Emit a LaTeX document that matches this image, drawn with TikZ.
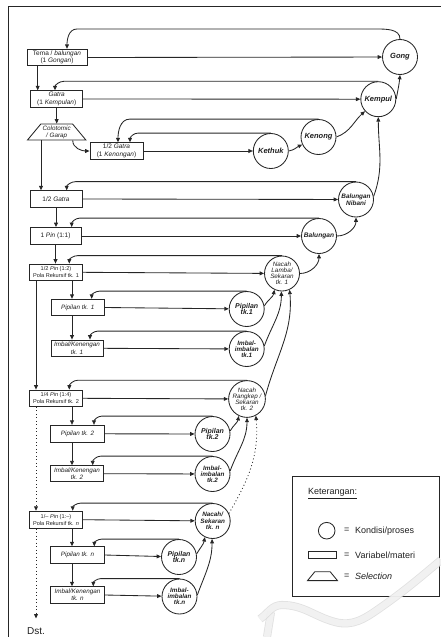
\documentclass[tikz,border=0pt]{standalone}
\usepackage{fontspec}
\setmainfont{Liberation Sans}
\usetikzlibrary{shapes.geometric,arrows.meta}
\begin{document}
\begin{tikzpicture}[x=1pt,y=-1pt,
  every node/.style={text=black!88},
  box/.style={draw=black!85, line width=0.85pt, inner sep=0pt, align=center, font=\fontsize{6.5}{7.6}\selectfont},
  smallbox/.style={box, font=\fontsize{5.6}{7.2}\selectfont},
  itbox/.style={box, font=\fontsize{6.3}{7.4}\selectfont\itshape},
  cir/.style={draw=black!85, circle, line width=0.85pt, minimum size=35pt, inner sep=0pt, align=center},
  cf/.style 2 args={font=\fontsize{#1}{#2}\selectfont\bfseries\itshape},
  ci/.style 2 args={font=\fontsize{#1}{#2}\selectfont\itshape},
  arr/.style={line width=0.85pt, draw=black!85, -{Triangle[length=4.4pt,width=3.8pt]}},
  dotarr/.style={arr, dash pattern=on 0.9pt off 2.6pt},
  wm/.style={draw=gray!30, line width=0.8pt, double=gray!8, double distance=6.5pt},
  legtxt/.style={font=\fontsize{9}{10}\selectfont, inner sep=0pt},
]
\useasboundingbox (0,0) rectangle (441,637);
% frame
\draw[line width=0.9pt, draw=black!85] (8,637) -- (8,6) -- (441,6);

% ---------- boxes ----------
\node[box, minimum width=60pt, minimum height=16.5pt] (Tema) at (57,57.5) {Tema / \textit{balungan}\\(1 \textit{Gongan})};
\node[box, minimum width=52pt, minimum height=16.5pt] (Gatra) at (56.7,99) {\textit{Gatra}\\(1 \textit{Kempulan})};
\node[draw=black!85, line width=0.85pt, trapezium, trapezium stretches=true, trapezium left angle=48, trapezium right angle=48, minimum width=58.7pt, minimum height=16pt, inner sep=0pt, align=center, font=\fontsize{6.3}{7.2}\selectfont\itshape] (Trap) at (56.7,132) {Colotomic\\/ Garap};
\node[box, minimum width=53pt, minimum height=16.5pt] (Kenongan) at (116.5,151) {1/2 \textit{Gatra}\\(1 \textit{Kenongan})};
\node[box, minimum width=52pt, minimum height=16.5pt] (Gatrahalf) at (56,199) {1/2 \textit{Gatra}};
\node[box, minimum width=51pt, minimum height=17pt] (Onepin) at (55.5,236) {1 \textit{Pin} (1:1)};
\node[smallbox, minimum width=53pt, minimum height=16.5pt] (Halfpin) at (56,272.3) {1/2 \textit{Pin} (1:2)\\Pola Rekursif tk. 1};
\node[itbox, minimum width=53pt, minimum height=16.5pt] (PipB1) at (77.7,307.5) {Pipilan tk. 1};
\node[itbox, minimum width=52pt, minimum height=16.5pt] (ImbB1) at (77,348.3) {Imbal/Kenengan\\tk. 1};
\node[smallbox, minimum width=53pt, minimum height=16.5pt] (Quarterpin) at (56,398.3) {1/4 \textit{Pin} (1:4)\\Pola Rekursif tk. 2};
\node[itbox, minimum width=53.5pt, minimum height=17pt] (PipB2) at (77.5,433.8) {Pipilan tk. 2};
\node[itbox, minimum width=52.5pt, minimum height=16pt] (ImbB2) at (77,473.7) {Imbal/Kenengan\\tk. 2};
\node[smallbox, minimum width=53pt, minimum height=17pt] (Npin) at (56,519.7) {1/– \textit{Pin} (1:–)\\Pola Rekursif tk. \textit{n}};
\node[itbox, minimum width=53.5pt, minimum height=16.5pt] (PipBn) at (77.5,555) {Pipilan tk. n};
\node[itbox, minimum width=53.5pt, minimum height=16.5pt] (ImbBn) at (77.5,595) {Imbal/Kenengan\\tk. n};
\node[font=\fontsize{10}{12}\selectfont, anchor=west, inner sep=0pt] (Dst) at (27,631.5) {Dst.};
\coordinate (DstTop) at (36,618.5);

% ---------- circles ----------
\node[cir, cf={7.5}{8}] (Gong) at (400,57) {Gong};
\node[cir, cf={7.5}{8}] (Kempul) at (378.3,99.2) {Kempul};
\node[cir, cf={7.5}{8}] (Kenong) at (318.5,137) {Kenong};
\node[cir, cf={7.5}{8}] (Kethuk) at (270.8,151) {Kethuk};
\node[cir, cf={6.4}{6.8}] (Nibani) at (356,199.5) {Balungan\\Nibani};
\node[cir, cf={6.6}{7}] (Balungan) at (319,236) {Balungan};
\node[cir, ci={6.3}{6.1}] (Nacah1) at (282,273.5) {Nacah\\Lamba/\\Sekaran\\tk. 1};
\node[cir, cf={7}{6.8}] (PipC1) at (246.7,309) {Pipilan\\tk.1};
\node[cir, cf={6.3}{6.2}] (ImbC1) at (246.7,349) {Imbal-\\imbalan\\tk.1};
\node[cir, ci={6.3}{6.1}] (Nacah2) at (247,399) {Nacah\\Rangkep /\\Sekaran\\tk. 2};
\node[cir, cf={7}{6.8}] (PipC2) at (212.5,434) {Pipilan\\tk.2};
\node[cir, cf={6.3}{6.2}] (ImbC2) at (212.5,474) {Imbal-\\imbalan\\tk.2};
\node[cir, cf={6.3}{6.3}] (NacahN) at (212.7,521) {Nacah/\\Sekaran\\tk. n};
\node[cir, cf={7}{6.8}] (PipCn) at (179,557) {Pipilan\\tk.n};
\node[cir, cf={6.3}{6.2}] (ImbCn) at (179.5,596.5) {Imbal-\\imbalan\\tk.n};

% ---------- box -> circle ----------
\foreach \b/\c in {Tema/Gong, Gatra/Kempul, Kenongan/Kethuk, Gatrahalf/Nibani, Onepin/Balungan,
  Halfpin/Nacah1, PipB1/PipC1, ImbB1/ImbC1, Quarterpin/Nacah2, PipB2/PipC2, ImbB2/ImbC2,
  Npin/NacahN, PipBn/PipCn, ImbBn/ImbCn}
  \draw[arr] (\b.east) -- (\c);

% ---------- returns circle -> box ----------
\draw[arr] (Gong.north) to[out=90,in=0] (376,29) -- (77,29) to[out=180,in=90] ([xshift=10pt]Tema.north);
\draw[arr] (Kempul.north) -- (64,0 |- Kempul.north) to[out=180,in=90] ([xshift=-1.7pt]Gatra.north);
\draw[arr] (Kenong.north) -- (130,0 |- Kenong.north) to[out=180,in=90] ([xshift=1.5pt]Kenongan.north);
\draw[arr] (Kethuk.north) -- (138,0 |- Kethuk.north) to[out=180,in=90] ([xshift=13.5pt]Kenongan.north);
\draw[arr] (Nibani.north) -- (76,0 |- Nibani.north) to[out=180,in=90] ([xshift=10.7pt]Gatrahalf.north);
\draw[arr] (Balungan.north) -- (80,0 |- Balungan.north) to[out=180,in=90] ([xshift=16.2pt]Onepin.north);
\draw[arr] (Nacah1.north) -- (78,0 |- Nacah1.north) to[out=180,in=90] ([xshift=13.3pt]Halfpin.north);
\draw[arr] (PipC1.north) -- (100,0 |- PipC1.north) to[out=180,in=90] ([xshift=14pt]PipB1.north);
\draw[arr] (ImbC1.north) -- (98,0 |- ImbC1.north) to[out=180,in=90] ([xshift=13pt]ImbB1.north);
\draw[arr] (Nacah2.north) -- (78,0 |- Nacah2.north) to[out=180,in=90] ([xshift=13.3pt]Quarterpin.north);
\draw[arr] (PipC2.north) -- (102,0 |- PipC2.north) to[out=180,in=90] ([xshift=16.5pt]PipB2.north);
\draw[arr] (ImbC2.north) -- (101,0 |- ImbC2.north) to[out=180,in=90] ([xshift=15.7pt]ImbB2.north);
\draw[arr] (NacahN.north) -- (81,0 |- NacahN.north) to[out=180,in=90] ([xshift=16.7pt]Npin.north);
\draw[arr] (PipCn.north) -- (102,0 |- PipCn.north) to[out=180,in=90] ([xshift=16.8pt]PipBn.north);
\draw[arr] (ImbCn.north) -- (101,0 |- ImbCn.north) to[out=180,in=90] ([xshift=15.8pt]ImbBn.north);

% ---------- circle -> circle ----------
\draw[arr] (Kethuk.east) to[out=10,in=205] (Kenong.205);
\draw[arr] (Kenong.east) to[out=20,in=222] (Kempul.222);
\draw[arr] (Kempul.east) to[out=80,in=-95] (Gong.south);
\draw[arr] (Nibani.10) to[out=70,in=-90] (Kempul.south);
\draw[arr] (Balungan.east) to[out=0,in=-90] (Nibani.south);
\draw[arr] (Nacah1.east) to[out=0,in=-90] (Balungan.south);
\draw[arr] (PipC1.10) to[out=60,in=-100] (Nacah1.245);
\draw[arr] (ImbC1.10) to[out=70,in=-90] (Nacah1.268);
\draw[arr] (Nacah2.10) to[out=75,in=-85] (Nacah1.295);
\draw[arr] (PipC2.10) to[out=60,in=-100] (Nacah2.244);
\draw[arr] (ImbC2.10) to[out=70,in=-90] (Nacah2.south);
\draw[dotarr] (NacahN.25) to[out=60,in=-85] (Nacah2.298);
\draw[arr] (PipCn.10) to[out=60,in=-100] (NacahN.244);
\draw[arr] (ImbCn.5) to[out=70,in=-90] (NacahN.268);

% ---------- left spine ----------
\draw[arr] (37.7,0 |- Tema.south) -- (37.7,0 |- Gatra.north);
\draw[arr] (Gatra.south) -- (Gatra.south |- Trap.north);
\draw[arr] (41,0 |- Trap.south) -- (41,0 |- Gatrahalf.north);
\draw[arr] (72.7,0 |- Trap.south) to[out=-90,in=180] (Kenongan.west);
\draw[arr] (Gatrahalf.south) -- (Gatrahalf.south |- Onepin.north);
\draw[arr] (Onepin.south) -- (Onepin.south |- Halfpin.north);
\draw[arr] (36,0 |- Halfpin.south) -- (36,0 |- Quarterpin.north);
\draw[arr] (72,0 |- Halfpin.south) -- (72,0 |- PipB1.north);
\draw[arr] (72,0 |- PipB1.south) -- (72,0 |- ImbB1.north);
\draw[arr] (72,0 |- Quarterpin.south) -- (72,0 |- PipB2.north);
\draw[arr] (72,0 |- PipB2.south) -- (72,0 |- ImbB2.north);
\draw[dotarr] (36,0 |- Quarterpin.south) -- (36,0 |- Npin.north);
\draw[arr] (72,0 |- Npin.south) -- (72,0 |- PipBn.north);
\draw[arr] (72,0 |- PipBn.south) -- (72,0 |- ImbBn.north);
\draw[dotarr] (36,0 |- Npin.south) -- (DstTop);

% ---------- legend ----------
\node[draw=black!85, line width=0.85pt, minimum width=147pt, minimum height=120pt, inner sep=0pt] (Legend) at (366.2,536.7) {};
\node[legtxt, anchor=west] (Ket) at (308,493.5) {\underline{Keterangan:}};
\node[draw=black!85, circle, line width=0.85pt, minimum size=16.6pt, inner sep=0pt] (LCir) at (326.7,530.7) {};
\node[draw=black!85, line width=0.85pt, minimum width=28.4pt, minimum height=6.6pt, inner sep=0pt] (LRect) at (322.5,555) {};
\node[minimum width=29.6pt, minimum height=8.5pt, inner sep=0pt] (LTrap) at (322.5,576.2) {};
\draw[draw=black!85, line width=0.85pt] (LTrap.south west) -- (LTrap.south east) -- ([xshift=-7.3pt]LTrap.north east) -- ([xshift=7.3pt]LTrap.north west) -- cycle;
\node[legtxt] (E1) at (346.7,530.7) {=};
\node[legtxt] (E2) at (346.7,555) {=};
\node[legtxt] (E3) at (346.7,576.5) {=};
\node[legtxt, anchor=west] (L1) at (355,530.7) {Kondisi/proses};
\node[legtxt, anchor=west] (L2) at (355,555) {Variabel/materi};
\node[legtxt, anchor=west, font=\fontsize{9}{10}\selectfont\itshape] (L3) at (355,576.7) {Selection};

% watermark (faint)
\begin{scope}[opacity=0.8]
\draw[wm] (267,637) -- (271,612);
\draw[wm] (260,619) to[out=35,in=180] (282,605) to[out=0,in=165] (335,622) to[out=-15,in=215] (380,608) to[out=35,in=220] (441,560);
\end{scope}
\end{tikzpicture}
\end{document}
